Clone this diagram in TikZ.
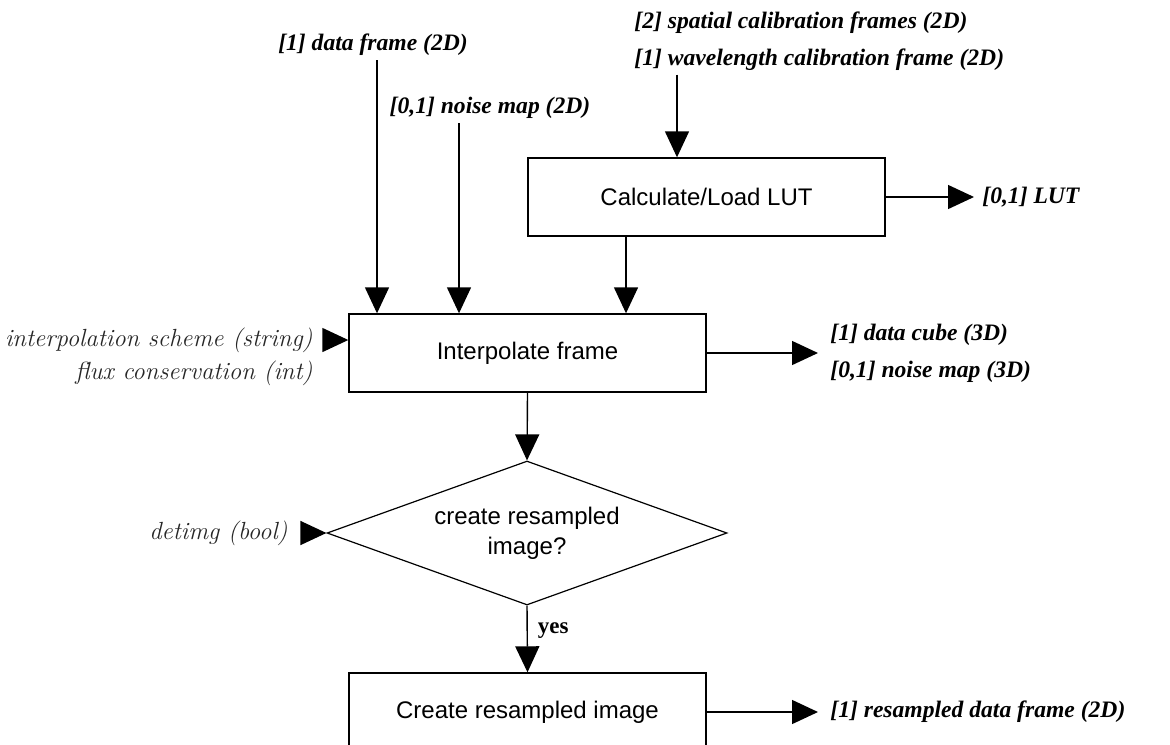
\documentclass[tikz,border=0pt]{standalone}
\usepackage{fontspec}
\setsansfont{Liberation Sans}
\newfontfamily\timesfont{Liberation Serif}
\usepackage{tikz}
\usetikzlibrary{calc,shapes.geometric,arrows.meta}

\begin{document}
\begin{tikzpicture}[x=0.5pt,y=-0.5pt]
                \tikzstyle{every node}+=[inner sep=2pt]
                \tikzstyle{procbox}=[draw, line width=0.7pt, minimum width=178.5pt, minimum height=39pt, font=\sffamily\fontsize{12}{14}\selectfont]
                \tikzstyle{decbox}=[draw, diamond, aspect=2.78, line width=0.6pt, minimum width=200pt, minimum height=72pt, inner sep=0pt, align=center, font=\sffamily\fontsize{12}{15}\selectfont]
                \tikzstyle{iolabel}=[font=\timesfont\bfseries\itshape\fontsize{11.8}{18.5}\selectfont]
                \tikzstyle{parlabel}=[text=black!85, font=\itshape\fontsize{12.4}{16.5}\selectfont]
                \tikzstyle{flow}=[line width=0.7pt, -{Triangle[length=13pt,width=12pt]}]
                \clip (0,0) rectangle (1170,744);
                % boxes
                \node[procbox] (lut) at (706.5,197) {Calculate/Load LUT};
                \node[procbox] (interp) at (527.5,353) {Interpolate frame};
                \node[decbox] (decide) at (527,533) {create resampled\\image?};
                \node[procbox] (resample) at (527.5,712) {Create resampled image};
                % inputs and outputs
                \node[iolabel] (dfr) at (373,45) {[1] data frame (2D)};
                \node[iolabel] (nmap) at (490,108) {[0,1] noise map (2D)};
                \node[iolabel, anchor=west, align=left] (cal) at (630,41) {[2] spatial calibration frames (2D)\\{}[1] wavelength calibration frame (2D)};
                \node[iolabel, anchor=west] (lutout) at (978,197) {[0,1] LUT};
                \node[iolabel, anchor=west, align=left] (cubes) at (826,353) {[1] data cube (3D)\\{}[0,1] noise map (3D)};
                \node[iolabel, anchor=west] (resout) at (826,712) {[1] resampled data frame (2D)};
                \node[parlabel, anchor=east, align=right] (parms) at (317,357) {interpolation scheme (string)\\ flux conservation (int)};
                \node[parlabel, anchor=east] (detimg) at (292,533) {detimg (bool)};
                \coordinate (pin) at (323,340);
                % connectors
                \draw[flow] ([xshift=-75.25pt]interp.north |- dfr.south) -- ([xshift=-75.25pt]interp.north);
                \draw[flow] ([xshift=-34.25pt]interp.north |- nmap.south) -- ([xshift=-34.25pt]interp.north);
                \draw[flow] ([xshift=-14.75pt]lut.north |- cal.south) -- ([xshift=-14.75pt]lut.north);
                \draw[flow] ([xshift=-40.25pt]lut.south) -- ([xshift=-40.25pt]lut.south |- interp.north);
                \draw[flow, shorten >=2pt] (lut.east) -- (lutout.west);
                \draw[flow, shorten >=4pt] (interp.east) -- (interp.east -| cubes.west);
                \draw[flow] (pin) -- (pin -| interp.west);
                \draw[flow] (interp.south) -- (decide.north);
                \draw[flow, shorten <=4.5pt] (detimg.east) -- (decide.west);
                \draw[flow] (decide.south) -- node[right, pos=0.37, xshift=3pt, font=\timesfont\bfseries\fontsize{11.5}{13}\selectfont] {yes} (resample.north);
                \draw[flow, shorten >=4pt] (resample.east) -- (resout.west);
\end{tikzpicture}
\end{document}
